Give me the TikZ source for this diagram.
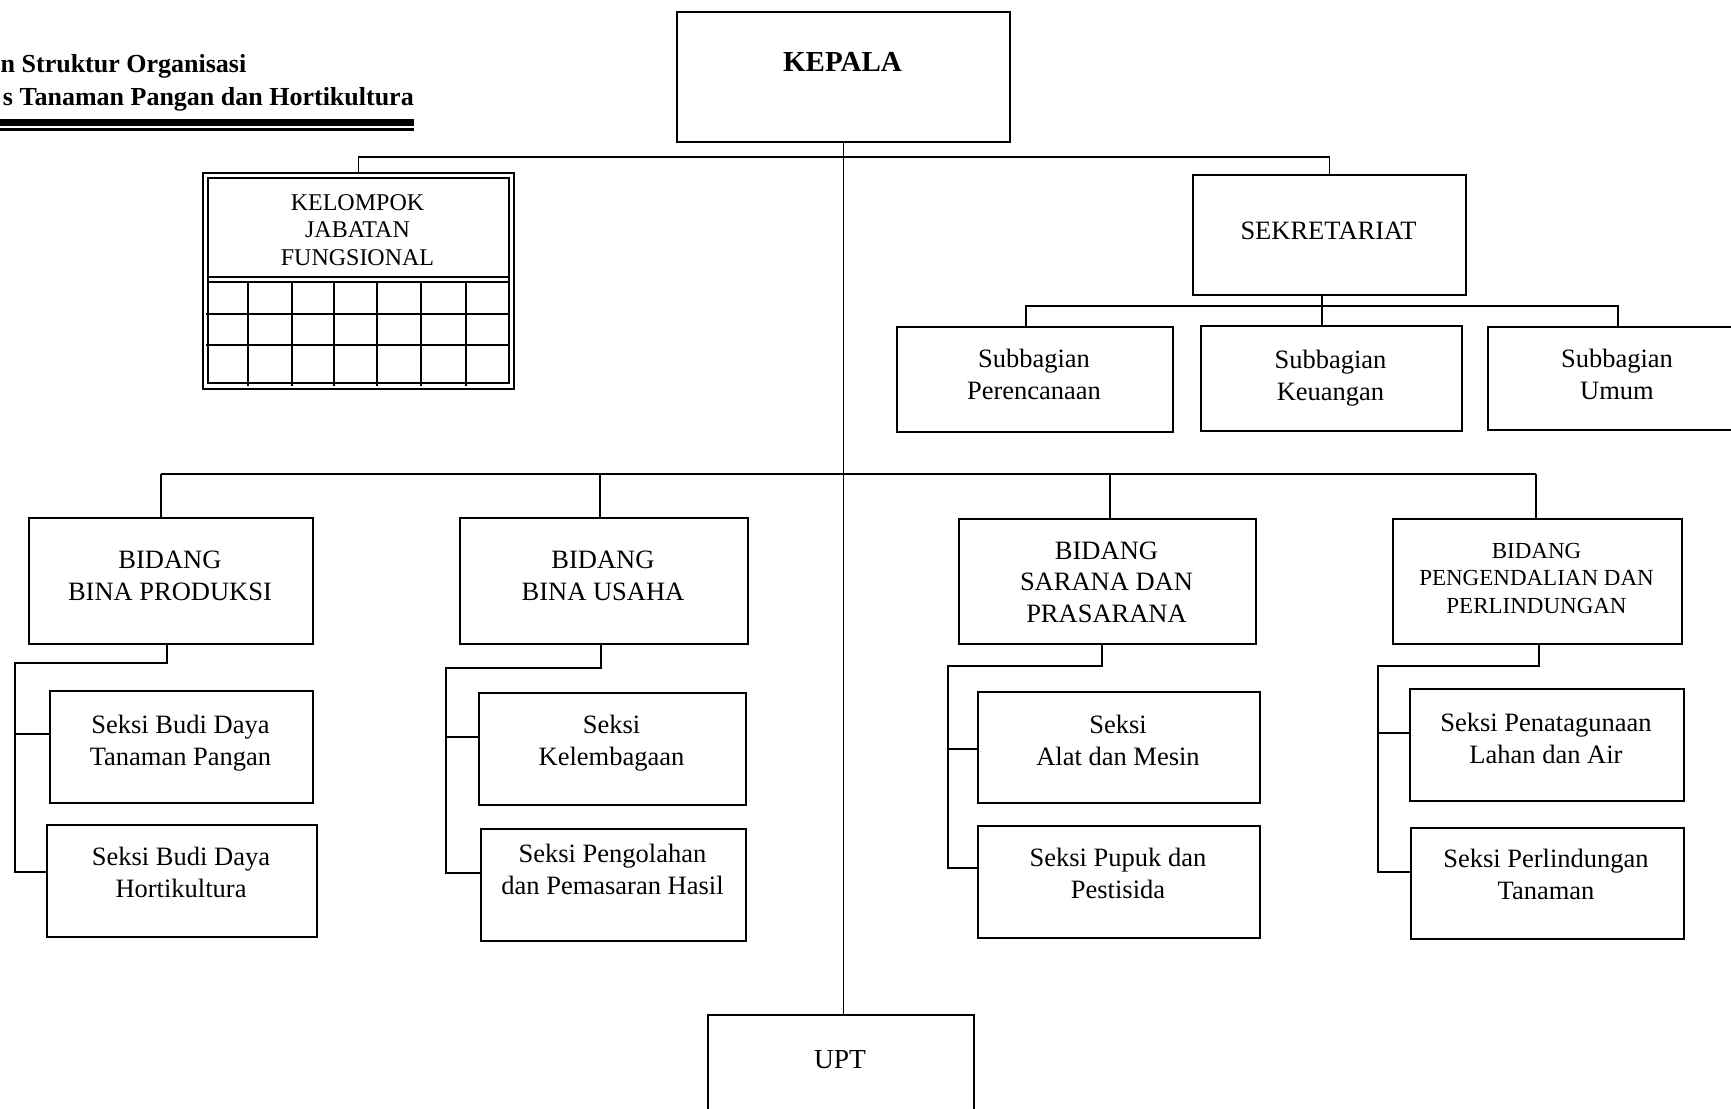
\documentclass[tikz,border=0pt]{standalone}
\usepackage{fontspec}
\setmainfont{Liberation Serif}
\begin{document}
\begin{tikzpicture}[x=1pt,y=-1pt,
  box/.style={draw, line width=2pt, rectangle, inner sep=0pt, anchor=north west},
  dbox/.style={draw, line width=1.7pt, rectangle, inner sep=0pt, anchor=north west},
  con/.style={line width=1.6pt},
  grid/.style={line width=1.5pt},
  txt/.style={font=\fontsize{26.5}{31.5}\selectfont, align=center, anchor=base, inner sep=0pt},
  smalltxt/.style={font=\fontsize{23}{27.5}\selectfont, align=center, anchor=base, inner sep=0pt},
  kelotxt/.style={font=\fontsize{24}{27.5}\selectfont, align=center, anchor=base, inner sep=0pt},
  titletxt/.style={font=\bfseries\fontsize{26}{32}\selectfont, inner sep=0pt}]
\useasboundingbox (0,0) rectangle (1731,1108);
\clip (0,0) rectangle (1731,1108);
\fill[white] (0,0) rectangle (1731,1108);

% title
\node[titletxt, anchor=base west] (title1) at (0.5,73) {n Struktur Organisasi};
\node[titletxt, anchor=base east] (title2) at (414,105) {s Tanaman Pangan dan Hortikultura};
\fill (0,119) rectangle (414,126);
\fill (0,128.2) rectangle (414,130.5);

% KEPALA
\node[box, minimum width=333pt, minimum height=130pt] (kepala) at (676,11) {};
\node[txt, font=\bfseries\fontsize{29}{34}\selectfont] (kepala-t) at (842.5,71) {KEPALA};

% Kelompok jabatan fungsional
\node[dbox, minimum width=311pt, minimum height=216pt] (kel) at (202,172) {};
\node[dbox, minimum width=301pt, minimum height=205pt] (kel-in) at (207,177) {};
\node[kelotxt] (kel-t) at (357.5,265) {KELOMPOK\\JABATAN\\FUNGSIONAL};
\draw[grid] (207,277) -- (508,277);
\draw[grid] (207,282) -- (508,282);
\draw[grid] (206,314) -- (510,314);
\draw[grid] (206,345) -- (510,345);
\foreach \gx in {248,292,334,377,421,466}
  \draw[grid] (\gx,282) -- (\gx,386);

% Sekretariat
\node[box, minimum width=273pt, minimum height=120pt] (sek) at (1192,174) {};
\node[txt] (sek-t) at (1328.5,239) {SEKRETARIAT};
\node[box, minimum width=276pt, minimum height=105pt] (per) at (896,326) {};
\node[txt] (per-t) at (1034,399) {Subbagian\\Perencanaan};
\node[box, minimum width=261pt, minimum height=105pt] (keu) at (1200,325) {};
\node[txt] (keu-t) at (1330.5,400) {Subbagian\\Keuangan};
\node[box, minimum width=263pt, minimum height=103pt] (umum) at (1487,326) {};
\node[txt] (umum-t) at (1617,399) {Subbagian\\Umum};

% Bidang
\node[box, minimum width=284pt, minimum height=126pt] (bp) at (28,517) {};
\node[txt] (bp-t) at (170,600) {BIDANG\\BINA PRODUKSI};
\node[box, minimum width=288pt, minimum height=126pt] (bu) at (459,517) {};
\node[txt] (bu-t) at (603,600) {BIDANG\\BINA USAHA};
\node[box, minimum width=297pt, minimum height=125pt] (bs) at (958,518) {};
\node[txt] (bs-t) at (1106.5,622) {BIDANG\\SARANA DAN\\PRASARANA};
\node[box, minimum width=289pt, minimum height=125pt] (bpp) at (1392,518) {};
\node[smalltxt] (bpp-t) at (1536.5,613) {BIDANG\\PENGENDALIAN DAN\\PERLINDUNGAN};

% Seksi
\node[box, minimum width=263pt, minimum height=112pt] (s11) at (49,690) {};
\node[txt] (s11-t) at (180.5,765) {Seksi Budi Daya\\Tanaman Pangan};
\node[box, minimum width=270pt, minimum height=112pt] (s12) at (46,824) {};
\node[txt] (s12-t) at (181,897) {Seksi Budi Daya\\Hortikultura};
\node[box, minimum width=267pt, minimum height=112pt] (s21) at (478,692) {};
\node[txt] (s21-t) at (611.5,765) {Seksi\\Kelembagaan};
\node[box, minimum width=265pt, minimum height=112pt] (s22) at (480,828) {};
\node[txt] (s22-t) at (612.5,894) {Seksi Pengolahan\\dan Pemasaran Hasil};
\node[box, minimum width=282pt, minimum height=111pt] (s31) at (977,691) {};
\node[txt] (s31-t) at (1118,765) {Seksi\\Alat dan Mesin};
\node[box, minimum width=282pt, minimum height=112pt] (s32) at (977,825) {};
\node[txt] (s32-t) at (1118,898) {Seksi Pupuk dan\\Pestisida};
\node[box, minimum width=274pt, minimum height=112pt] (s41) at (1409,688) {};
\node[txt] (s41-t) at (1546,763) {Seksi Penatagunaan\\Lahan dan Air};
\node[box, minimum width=273pt, minimum height=111pt] (s42) at (1410,827) {};
\node[txt] (s42-t) at (1546,899) {Seksi Perlindungan\\Tanaman};

% UPT
\node[box, minimum width=266pt, minimum height=110pt] (upt) at (707,1014) {};
\node[txt, font=\fontsize{27.5}{32}\selectfont] (upt-t) at (840,1068) {UPT};

% connectors
\coordinate (busA) at (0,157);
\draw[con] (kel.north) -- (kel.north |- busA) -| (sek.north);
\draw[con] (kepala.south) -- (kepala.south |- upt.north);

\coordinate (sb1) at (1026,306);
\coordinate (sb3) at (1618,306);
\coordinate (sv) at (1322,0);
\draw[con, line width=2pt] (sb1 |- per.north) -- (sb1) -- (sb3) -- (sb3 |- umum.north);
\draw[con] (sek.south -| sv) -- (keu.north -| sv);

\coordinate (d1) at (161,474);
\coordinate (d2) at (600,474);
\coordinate (d3) at (1110,474);
\coordinate (d4) at (1536,474);
\draw[con] (d1) -- (d4);
\draw[con] (d1) -- (d1 |- bp.north);
\draw[con] (d2) -- (d2 |- bu.north);
\draw[con] (d3) -- (d3 |- bs.north);
\draw[con] (d4) -- (d4 |- bpp.north);

\coordinate (p1) at (167,663);
\coordinate (b11) at (15,734);
\coordinate (b12) at (15,872);
\draw[con] (bp.south -| p1) -- (p1) -| (b12) -- (b12 -| s12.west);
\draw[con] (b11) -- (b11 -| s11.west);

\coordinate (q1) at (601,668);
\coordinate (b21) at (446,737);
\coordinate (b22) at (446,873);
\draw[con] (bu.south -| q1) -- (q1) -| (b22) -- (b22 -| s22.west);
\draw[con] (b21) -- (b21 -| s21.west);

\coordinate (r1) at (1102,666);
\coordinate (b31) at (948,749);
\coordinate (b32) at (948,868);
\draw[con] (bs.south -| r1) -- (r1) -| (b32) -- (b32 -| s32.west);
\draw[con] (b31) -- (b31 -| s31.west);

\coordinate (t1) at (1539,666);
\coordinate (b41) at (1378,733);
\coordinate (b42) at (1378,872);
\draw[con] (bpp.south -| t1) -- (t1) -| (b42) -- (b42 -| s42.west);
\draw[con] (b41) -- (b41 -| s41.west);
\end{tikzpicture}
\end{document}
